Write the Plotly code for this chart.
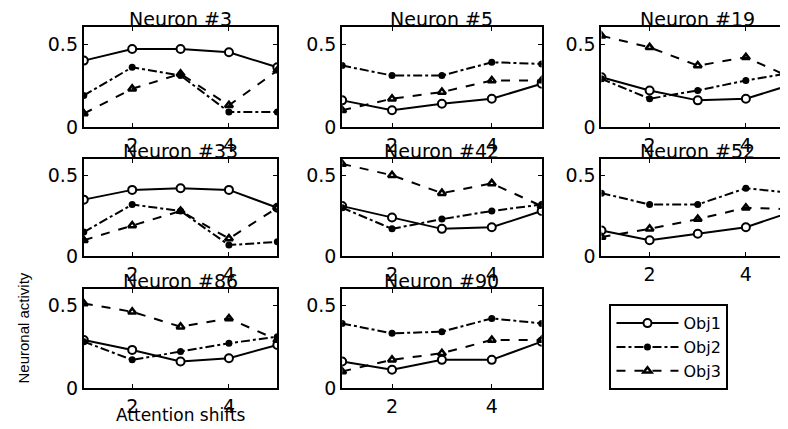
import plotly.graph_objects as go

shifts = [1, 2, 3, 4, 5]
neurons = ["Neuron #3", "Neuron #5", "Neuron #19", "Neuron #33",
           "Neuron #42", "Neuron #52", "Neuron #86", "Neuron #90"]
series_names = ["Obj1", "Obj2", "Obj3"]

obj1 = [
    [0.40, 0.47, 0.47, 0.45, 0.36],
    [0.16, 0.10, 0.14, 0.17, 0.26],
    [0.30, 0.22, 0.16, 0.17, 0.26],
    [0.35, 0.41, 0.42, 0.41, 0.30],
    [0.31, 0.24, 0.17, 0.18, 0.28],
    [0.16, 0.10, 0.14, 0.18, 0.28],
    [0.29, 0.23, 0.16, 0.18, 0.26],
    [0.16, 0.11, 0.17, 0.17, 0.28],
]
obj2 = [
    [0.19, 0.36, 0.31, 0.09, 0.09],
    [0.37, 0.31, 0.31, 0.39, 0.38],
    [0.29, 0.17, 0.22, 0.28, 0.33],
    [0.15, 0.32, 0.28, 0.07, 0.09],
    [0.30, 0.17, 0.23, 0.28, 0.32],
    [0.39, 0.32, 0.32, 0.42, 0.39],
    [0.28, 0.17, 0.22, 0.27, 0.31],
    [0.39, 0.33, 0.34, 0.42, 0.39],
]
obj3 = [
    [0.08, 0.23, 0.32, 0.13, 0.34],
    [0.10, 0.17, 0.21, 0.28, 0.28],
    [0.55, 0.48, 0.37, 0.42, 0.29],
    [0.10, 0.19, 0.28, 0.11, 0.30],
    [0.57, 0.50, 0.39, 0.45, 0.31],
    [0.12, 0.17, 0.23, 0.30, 0.29],
    [0.51, 0.46, 0.37, 0.42, 0.29],
    [0.10, 0.17, 0.21, 0.29, 0.29],
]

x_ticks = [2, 4]
y_ticks = [0, 0.5]
y_ticktext = ["0", "0.5"]

W, H = 788, 429
col_px = [(76, 270), (335, 535), (595, 788)]
row_px = [(20, 122), (155, 255), (288, 390)]

FONT = "DejaVu Sans"
styles = [
    dict(dash="solid", marker=dict(symbol="circle", size=8, color="white",
                                   line=dict(color="black", width=2))),
    dict(dash="dashdot", marker=dict(symbol="circle", size=7, color="black",
                                     line=dict(color="black", width=0))),
    dict(dash="dash", marker=dict(symbol="triangle-up-open", size=7, color="black",
                                  line=dict(color="black", width=2.5))),
]

fig = go.Figure()
annotations = []
layout_axes = {}
for i, name in enumerate(neurons):
    r, c = divmod(i, 3)
    x0, x1 = col_px[c]
    y0, y1 = row_px[r]
    xd = [x0 / W, x1 / W]
    yd = [1 - y1 / H, 1 - y0 / H]
    sfx = "" if i == 0 else str(i + 1)
    for k, vals in enumerate([obj1[i], obj2[i], obj3[i]]):
        st = styles[k]
        fig.add_trace(go.Scatter(
            x=shifts, y=vals, mode="lines+markers", name=series_names[k],
            line=dict(color="black", width=2, dash=st["dash"]),
            marker=st["marker"], showlegend=(i == 0),
            xaxis="x" + sfx, yaxis="y" + sfx, legendgroup=series_names[k],
        ))
    common = dict(showgrid=False, zeroline=False, showline=True, linecolor="black",
                  linewidth=2, mirror="allticks", ticks="inside", ticklen=4,
                  tickwidth=1, tickcolor="black",
                  tickfont=dict(family=FONT, size=19, color="black"))
    layout_axes["xaxis" + sfx] = dict(domain=xd, range=[1, 5], tickvals=x_ticks,
                                      anchor="y" + sfx, **common)
    layout_axes["yaxis" + sfx] = dict(domain=yd, range=[0, 0.6], tickvals=y_ticks,
                                      ticktext=y_ticktext, anchor="x" + sfx, **common)
    annotations.append(dict(text=name, x=(x0 + x1) / 2 / W, y=yd[1], xref="paper",
                            yref="paper", xanchor="center", yanchor="bottom",
                            yshift=-4, borderpad=0, showarrow=False,
                            font=dict(family=FONT, size=19, color="black")))

annotations.append(dict(text="Attention shifts", x=(col_px[0][0] + col_px[0][1]) / 2 / W,
                        y=1 - 418 / H, xref="paper", yref="paper", xanchor="center",
                        yanchor="middle", showarrow=False,
                        font=dict(family=FONT, size=17, color="black")))
annotations.append(dict(text="Neuronal activity", x=16 / W, y=1 - 328 / H, xref="paper",
                        yref="paper", xanchor="center", yanchor="middle",
                        textangle=-90, showarrow=False,
                        font=dict(family="Liberation Sans", size=15, color="black")))

fig.update_layout(
    width=W, height=H, margin=dict(l=0, r=0, t=0, b=0),
    paper_bgcolor="white", plot_bgcolor="white",
    annotations=annotations,
    legend=dict(x=603 / W, y=1 - 304 / H, xanchor="left", yanchor="top",
                bordercolor="black", borderwidth=2, bgcolor="white",
                font=dict(family=FONT, size=16, color="black"),
                tracegroupgap=0, itemwidth=62),
    **layout_axes,
)

fig.write_html("out.html")
